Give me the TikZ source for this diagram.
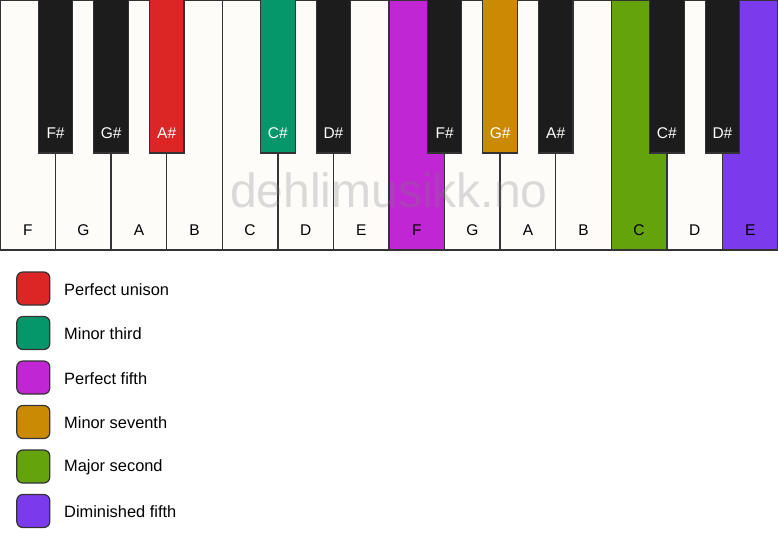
\documentclass[tikz,border=0pt]{standalone}
\usepackage{fontspec}
\setmainfont{Liberation Sans}
\definecolor{keywhite}{HTML}{FDFCF9}
\definecolor{keyblack}{HTML}{1C1C1C}
\definecolor{edge}{HTML}{333333}
\definecolor{cred}{HTML}{DC2626}
\definecolor{cgreen}{HTML}{059669}
\definecolor{cmagenta}{HTML}{C026D3}
\definecolor{cgold}{HTML}{CA8A04}
\definecolor{clime}{HTML}{65A30D}
\definecolor{cviolet}{HTML}{7C3AED}
\tikzset{
  whitekey/.style={draw=edge, line width=1.4pt, fill=keywhite},
  blackkey/.style={draw=edge, line width=1.2pt, fill=keyblack},
  wlabel/.style={font=\fontsize{15.5}{15.5}\selectfont, text=black},
  blabel/.style={font=\fontsize{15.5}{15.5}\selectfont, text=white},
  legbox/.style={draw=edge, line width=1.2pt, rounded corners=6pt, minimum width=33pt, minimum height=33pt, inner sep=0pt},
  legtext/.style={font=\fontsize{16.4}{16.4}\selectfont, anchor=west, inner sep=0pt},
}
\begin{document}
\begin{tikzpicture}[x=1pt,y=-1pt]
\useasboundingbox (0,0) rectangle (778,550);
\fill[white] (0,0) rectangle (778,550);
\def\kw{55.571}
% white keys
\foreach \i/\n/\c in {0/F/keywhite,1/G/keywhite,2/A/keywhite,3/B/keywhite,4/C/keywhite,5/D/keywhite,6/E/keywhite,7/F/cmagenta,8/G/keywhite,9/A/keywhite,10/B/keywhite,11/C/clime,12/D/keywhite,13/E/cviolet}{
  \draw[whitekey, fill=\c] ({\i*\kw},0) rectangle ({(\i+1)*\kw},250);
  \node[wlabel] (w\i) at ({(\i+0.5)*\kw},230.5) {\n};
}
% black keys
\foreach \j/\n/\c in {1/F\#/keyblack,2/G\#/keyblack,3/A\#/cred,5/C\#/cgreen,6/D\#/keyblack,8/F\#/keyblack,9/G\#/cgold,10/A\#/keyblack,12/C\#/keyblack,13/D\#/keyblack}{
  \draw[blackkey, fill=\c] ({\j*\kw-17.25},-1) rectangle ({\j*\kw+17.25},153);
  \node[blabel] (b\j) at ({\j*\kw},133) {\n};
}
% watermark
\node[font=\fontsize{48}{48}\selectfont, text=gray, opacity=0.28, anchor=base, inner sep=0pt] (wm) at (389,207.3) {dehlimusikk.no};
% legend
\foreach \k/\c/\t in {0/cred/Perfect unison,1/cgreen/Minor third,2/cmagenta/Perfect fifth,3/cgold/Minor seventh,4/clime/Major second,5/cviolet/Diminished fifth}{
  \node[legbox, fill=\c] (lb\k) at (33.3,{288.5+\k*44.5}) {};
  \node[legtext] (lt\k) at (64,{289.5+\k*44.5}) {\t};
}
\end{tikzpicture}
\end{document}
